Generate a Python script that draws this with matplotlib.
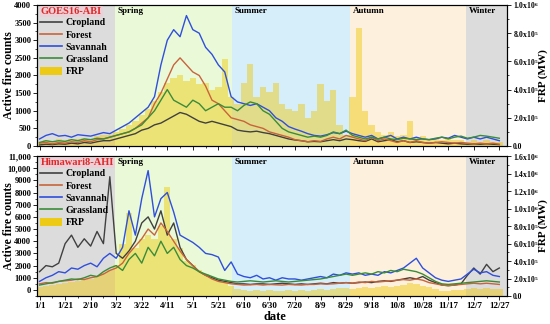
import matplotlib.pyplot as plt
import numpy as np
from matplotlib.lines import Line2D
from matplotlib.patches import Patch
from matplotlib.ticker import MultipleLocator

plt.rcParams['font.family'] = 'Liberation Serif'
plt.rcParams['font.weight'] = 'bold'
plt.rcParams['mathtext.fontset'] = 'custom'
plt.rcParams['mathtext.rm'] = 'Liberation Serif:bold'
plt.rcParams['mathtext.it'] = 'Liberation Serif:bold'
plt.rcParams['mathtext.bf'] = 'Liberation Serif:bold'

# day of year (every 5th day)
days = np.arange(0, 361, 5)
tick_days = np.arange(0, 361, 20)
tick_labels = ['1/1', '1/21', '2/10', '3/2', '3/22', '4/11', '5/1', '5/21', '6/10',
               '6/30', '7/20', '8/9', '8/29', '9/18', '10/8', '10/28', '11/17',
               '12/7', '12/27']

# GOES16-ABI
goes_crop = [30, 50, 40, 60, 50, 80, 60, 100, 80, 120,
             150, 150, 200, 250, 300, 350, 450, 500, 600, 650,
             750, 850, 950, 900, 800, 700, 650, 700, 650, 600,
             550, 450, 420, 400, 420, 380, 350, 300, 250, 200,
             170, 150, 120, 130, 120, 150, 180, 150, 200, 180,
             150, 130, 200, 120, 150, 180, 120, 150, 100, 120,
             100, 80, 100, 80, 60, 80, 60, 50, 60, 50,
             60, 50, 40]
goes_forest = [80, 100, 60, 100, 80, 120, 100, 150, 120, 180,
               200, 250, 300, 350, 400, 500, 650, 800, 1200, 1500,
               1900, 2300, 2500, 2300, 2100, 2000, 1700, 1300, 1200, 1000,
               800, 750, 700, 600, 550, 500, 400, 350, 300, 250,
               180, 150, 120, 150, 130, 200, 250, 200, 300, 250,
               200, 150, 250, 150, 200, 150, 100, 150, 100, 150,
               100, 80, 100, 120, 100, 80, 100, 80, 60, 80,
               60, 80, 50]
goes_savannah = [200, 300, 350, 280, 300, 250, 320, 300, 280, 330,
                 380, 350, 450, 550, 650, 800, 950, 1100, 1400, 2300,
                 3000, 3300, 3100, 3700, 3300, 3200, 2800, 2600, 2300, 2100,
                 1400, 1250, 1200, 1150, 1200, 1100, 1000, 800, 700, 550,
                 480, 420, 350, 300, 280, 320, 380, 350, 420, 350,
                 300, 250, 300, 200, 250, 300, 200, 250, 200, 250,
                 200, 180, 200, 250, 220, 300, 250, 200, 250, 200,
                 250, 200, 150]
goes_grass = [100, 150, 120, 150, 130, 180, 150, 200, 180, 220,
              200, 250, 300, 350, 400, 500, 600, 800, 1000, 1300,
              1600, 1300, 1200, 1100, 1300, 1200, 1000, 1100, 1200, 1100,
              1100, 1000, 1150, 1250, 1200, 1000, 900, 700, 500, 400,
              350, 300, 250, 280, 250, 300, 400, 350, 450, 300,
              250, 200, 250, 200, 250, 200, 180, 220, 200, 180,
              200, 180, 220, 250, 200, 250, 280, 220, 250, 300,
              280, 250, 220]
goes_frp = [0.3, 0.4, 0.3, 0.5, 0.4, 0.5, 0.5, 0.6, 0.5, 0.7,
            0.8, 0.8, 1.0, 1.2, 1.5, 1.8, 2.2, 2.6, 3.2, 3.8,
            4.5, 4.8, 5.0, 4.6, 4.8, 4.4, 4.5, 4.0, 4.2, 6.2,
            3.5, 3.0, 4.5, 5.8, 3.5, 4.2, 3.8, 4.5, 3.0, 2.6,
            2.5, 3.0, 2.0, 2.5, 4.4, 3.2, 4.0, 1.5, 0.8, 3.5,
            8.4, 2.5, 1.5, 1.0, 0.8, 1.0, 0.7, 0.8, 1.8, 0.6,
            0.7, 0.5, 0.6, 0.4, 0.5, 0.4, 0.4, 0.3, 0.4, 0.3,
            0.4, 0.3, 0.3]  # x1e5 MW

# Himawari8-AHI
hima_crop = [1500, 2000, 1900, 2200, 3800, 4500, 3500, 4200, 3600, 4800,
             3800, 9300, 3000, 2600, 3200, 4000, 5500, 6000, 5000, 6500,
             4500, 5500, 3500, 2500, 2000, 1500, 1200, 1000, 800, 700,
             600, 500, 500, 450, 500, 500, 450, 500, 550, 500,
             450, 500, 450, 500, 550, 500, 600, 550, 600, 550,
             600, 650, 600, 700, 750, 700, 800, 900, 1000, 900,
             1100, 800, 600, 400, 350, 400, 500, 1200, 1800, 1300,
             2100, 1500, 1800]
hima_forest = [500, 600, 550, 700, 750, 800, 900, 850, 1000, 1100,
               1300, 1600, 1800, 2200, 3000, 3600, 4200, 5000, 4500, 5500,
               4800, 4000, 3200, 2500, 2000, 1500, 1200, 900, 700, 600,
               500, 450, 400, 420, 450, 400, 450, 420, 400, 450,
               420, 400, 450, 450, 500, 480, 500, 550, 600, 550,
               650, 600, 700, 650, 700, 750, 800, 850, 800, 900,
               800, 600, 500, 400, 350, 400, 450, 500, 550, 500,
               550, 500, 450]
hima_savannah = [700, 1000, 1200, 1500, 1400, 1800, 1700, 2000, 2200, 1900,
                 2600, 3000, 2600, 3500, 6500, 4500, 7500, 9800, 6000, 7500,
                 8000, 6400, 4500, 4200, 3900, 3500, 3000, 2900, 2700, 1600,
                 2300, 1300, 1100, 1000, 1200, 900, 1000, 800, 1000, 900,
                 900, 800, 900, 1000, 1100, 1000, 1300, 1200, 1400, 1300,
                 1400, 1200, 1300, 1200, 1500, 1400, 1600, 1800, 2200, 2600,
                 1800, 1400, 1000, 800, 700, 800, 900, 1300, 1700, 1400,
                 1500, 1200, 1100]
hima_grass = [400, 500, 600, 700, 800, 900, 850, 1000, 1200, 1100,
              1500, 1800, 2000, 1600, 2500, 3000, 2200, 3500, 2800, 4000,
              3000, 3500, 2500, 2000, 1800, 1500, 1300, 1100, 900, 800,
              700, 650, 700, 750, 700, 650, 700, 750, 700, 650,
              700, 750, 800, 850, 900, 1000, 1100, 1200, 1300, 1200,
              1300, 1400, 1300, 1500, 1400, 1600, 1500, 1700, 1600, 1500,
              1300, 1000, 700, 500, 450, 500, 550, 600, 650, 700,
              750, 700, 650]
hima_frp = [1.0, 1.2, 1.3, 1.4, 1.5, 1.6, 1.7, 1.8, 2.0, 2.3,
            2.6, 3.0, 3.5, 6.0, 9.5, 5.5, 6.5, 7.0, 6.5, 8.0,
            12.5, 6.5, 5.5, 4.0, 3.5, 3.0, 2.5, 2.2, 1.8, 1.5,
            1.2, 0.8, 0.7, 0.6, 0.7, 0.6, 0.7, 0.6, 0.6, 0.7,
            0.6, 0.7, 0.6, 0.7, 0.8, 0.7, 0.8, 0.9, 0.9, 0.8,
            0.9, 1.0, 0.9, 1.0, 1.1, 1.0, 1.2, 1.3, 1.5, 1.4,
            1.2, 1.0, 0.8, 0.6, 0.6, 0.7, 0.7, 0.8, 0.9, 0.8,
            0.9, 0.8, 0.8]  # x1e5 MW

seasons = [(-5, 59, '', '#dcdcdc'), (59, 151, 'Spring', '#eafad8'),
           (151, 243, 'Summer', '#d6eefa'), (243, 334, 'Autumn', '#fdf0dc'),
           (334, 370, 'Winter', '#dcdcdc')]

line_colors = {'Cropland': '#404040', 'Forest': '#c8643c',
               'Savannah': '#2f4fdc', 'Grassland': '#3a8c3a'}
frp_color = '#f0c800'


def frp_label(v):
    if v == 0:
        return '0.0'
    e = int(np.floor(np.log10(v)))
    return f'{v / 10**e:.1f}x10$^{{{e}}}$'


def count_label(v):
    return f'{int(v):,}' if v >= 10000 else str(int(v))


def draw_panel(ax, title, series, frp, ymax, ystep, ymin, frpmax, show_x):
    ax2 = ax.twinx()
    ax.set_zorder(ax2.get_zorder() + 1)
    ax.patch.set_visible(False)
    for s, e, name, c in seasons:
        ax2.axvspan(s, e, color=c, lw=0, zorder=0)
        if name:
            ax.text(s + 2, 0.955, name, transform=ax.get_xaxis_transform(),
                    fontsize=6.5, va='center', ha='left')
    ax2.bar(days, np.array(frp) * 1e5, width=5, color=frp_color, alpha=0.45,
            lw=0, zorder=1)
    for name, vals in series.items():
        ax.plot(days, vals, color=line_colors[name], lw=1.0)

    ax.set_xlim(-2, 366)
    ax.set_ylim(ymin, ymax)
    yt = np.arange(0, ymax + 1, ystep)
    ax.set_yticks(yt)
    ax.set_yticklabels([count_label(v) for v in yt], fontsize=6)
    ax.yaxis.set_minor_locator(MultipleLocator(ystep / 2))
    ax.set_xticks(tick_days)
    ax.xaxis.set_minor_locator(MultipleLocator(10))
    if show_x:
        ax.set_xticklabels(tick_labels, fontsize=6.5)
    else:
        ax.set_xticklabels([])
    ax.set_ylabel('Active fire counts', fontsize=8.5, fontweight='bold')
    ax.yaxis.set_label_coords(-0.046, 0.5)

    ax2.set_ylim(0, frpmax)
    ft = np.arange(0, frpmax + 1, 2e5)
    ax2.set_yticks(ft)
    ax2.set_yticklabels([frp_label(v) for v in ft], fontsize=5.5)
    ax2.yaxis.set_minor_locator(MultipleLocator(1e5))
    ax2.set_ylabel('FRP (MW)', fontsize=8, fontweight='bold')
    ax2.yaxis.set_label_coords(1.067, 0.5)
    for a in (ax, ax2):
        a.tick_params(which='major', length=3, width=0.6, pad=1.2)
        a.tick_params(which='minor', length=1.5, width=0.5)

    ax.text(0.008, 0.955, title, transform=ax.transAxes, color='#e02828',
            fontsize=7.5, fontweight='bold', va='center', ha='left',
            bbox=dict(facecolor='#f7c8d4', alpha=0.6, lw=0, pad=0.6))
    handles = [Line2D([], [], color=line_colors[n], lw=1.2) for n in series]
    handles.append(Patch(facecolor=frp_color, alpha=0.9, lw=0))
    ax.legend(handles, list(series) + ['FRP'], loc='upper left',
              bbox_to_anchor=(-0.005, 0.95), frameon=False, fontsize=7,
              handlelength=2.2, handleheight=0.9, labelspacing=0.3,
              handletextpad=0.4, borderaxespad=0.2)


fig = plt.figure(figsize=(5.5, 3.24), dpi=100)
ax_top = fig.add_axes([0.0673, 0.5494, 0.8545, 0.4352])
ax_bot = fig.add_axes([0.0673, 0.0864, 0.8545, 0.4321])

draw_panel(ax_top, 'GOES16-ABI',
           {'Cropland': goes_crop, 'Forest': goes_forest,
            'Savannah': goes_savannah, 'Grassland': goes_grass},
           goes_frp, 4000, 500, 0, 1.0e6, False)
draw_panel(ax_bot, 'Himawari8-AHI',
           {'Cropland': hima_crop, 'Forest': hima_forest,
            'Savannah': hima_savannah, 'Grassland': hima_grass},
           hima_frp, 11000, 1000, -500, 1.6e6, True)

fig.text(0.5, 0.022, 'date', ha='center', va='center', fontsize=9,
         fontweight='bold')
fig.savefig('out.png', dpi=100)
